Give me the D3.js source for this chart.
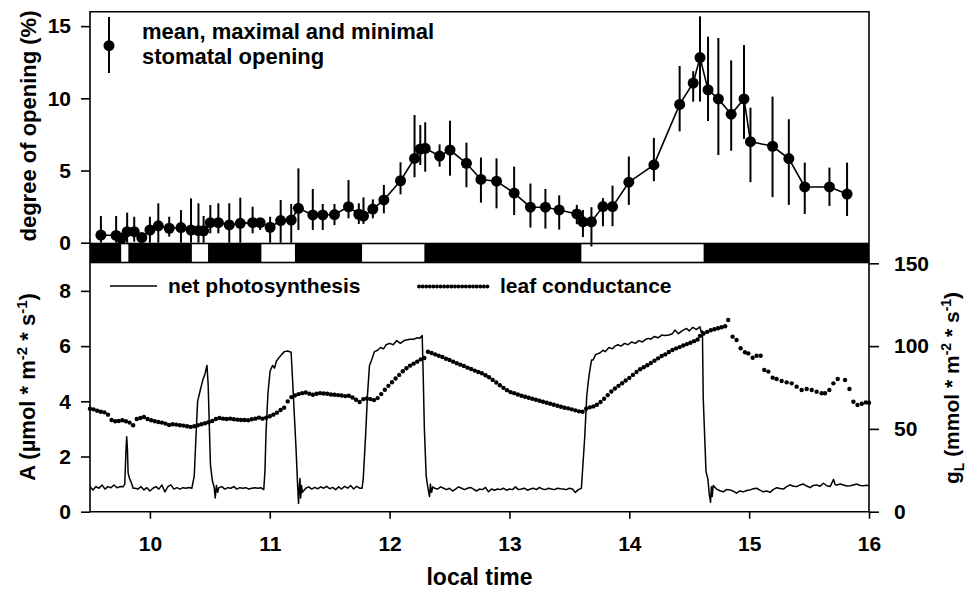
<!DOCTYPE html>
<html>
<head>
<meta charset="utf-8">
<script src="https://cdn.jsdelivr.net/npm/d3@7"></script>
<style>
  body { margin: 0; background: #fff; }
  svg text { font-family: "Liberation Sans", Arial, sans-serif; font-weight: bold; fill: #000; }
</style>
</head>
<body>
<svg id="chart" width="971" height="592"></svg>
<script>
// tick values
const hourTicks = [10, 11, 12, 13, 14, 15, 16];
const openTicks = [0, 5, 10, 15];
const aTicks = [0, 2, 4, 6, 8];
const gTicks = [0, 50, 100, 150];

// light on periods (white in the bar), local time
const lightPeriods = [[9.76, 9.82], [10.35, 10.485], [10.93, 11.21], [11.77, 12.29], [13.60, 14.62]];

// stomatal opening (%): mean, maximal, minimal
const openTime = [9.591, 9.718, 9.762, 9.81, 9.869, 9.932, 10.0, 10.07, 10.161, 10.259,
  10.343, 10.405, 10.448, 10.504, 10.571, 10.662, 10.754, 10.857, 10.92, 11.003,
  11.091, 11.179, 11.239, 11.359, 11.442, 11.54, 11.657, 11.743, 11.782, 11.86,
  11.952, 12.091, 12.208, 12.256, 12.297, 12.417, 12.504, 12.641, 12.762, 12.892,
  13.039, 13.175, 13.3, 13.415, 13.562, 13.613, 13.684, 13.78, 13.86, 13.996,
  14.205, 14.42, 14.533, 14.59, 14.657, 14.743, 14.85, 14.957, 15.011, 15.195,
  15.331, 15.464, 15.67, 15.817];
const openMean = [0.53, 0.5, 0.3, 0.76, 0.76, 0.36, 0.88, 1.17, 1.0, 1.05,
  0.88, 0.83, 0.82, 1.39, 1.39, 1.23, 1.34, 1.39, 1.39, 1.07,
  1.53, 1.57, 2.38, 1.92, 1.92, 1.95, 2.49, 1.97, 1.85, 2.33,
  2.96, 4.29, 5.84, 6.49, 6.54, 6.0, 6.42, 5.5, 4.38, 4.26,
  3.44, 2.46, 2.46, 2.27, 1.99, 1.45, 1.45, 2.5, 2.5, 4.19,
  5.39, 9.58, 11.06, 12.82, 10.59, 9.96, 8.9, 9.96, 7.0, 6.68,
  5.83, 3.86, 3.86, 3.37];
const openMax = [1.85, 1.85, 0.6, 2.08, 1.8, 0.6, 1.8, 2.73, 1.8, 2.26,
  3.07, 2.73, 1.85, 2.61, 2.73, 2.73, 3.12, 2.49, 1.69, 1.8,
  2.96, 2.68, 5.15, 3.72, 2.68, 2.68, 4.34, 2.73, 3.14, 3.0,
  4.0, 5.57, 8.84, 8.15, 8.34, 6.81, 8.45, 6.93, 5.9, 5.84,
  5.27, 4.1, 3.72, 3.28, 2.62, 2.27, 2.46, 3.09, 3.95, 5.97,
  7.26, 12.24, 11.88, 15.68, 14.27, 14.18, 12.63, 13.69, 9.35, 10.12,
  8.55, 5.55, 5.2, 5.55];
const openMin = [0, 0, 0, 0, 0.07, 0.1, 0, 0, 0.42, 0,
  0, 0, 0, 0.65, 0.65, 0, 0, 0.65, 0.88, 0,
  0, 0, 0.88, 0.88, 0.88, 1.22, 1.69, 1.3, 1.3, 1.69,
  2.03, 3.35, 4.53, 5.38, 4.92, 5.27, 4.64, 3.84, 2.78, 2.38,
  1.92, 1.05, 0.98, 0.91, 1.28, 0.39, -0.26, 1.14, 1.14, 2.62,
  4.26, 7.71, 9.77, 9.77, 8.43, 6.07, 6.37, 7.19, 4.19, 3.16,
  2.62, 1.99, 2.55, 1.85];

// net photosynthesis A (umol m-2 s-1): [time, value]
const photosynthesis = [
  [9.50,0.91],[9.525,0.79],[9.55,0.91],[9.575,0.85],[9.60,0.97],[9.625,0.82],[9.65,0.91],[9.675,0.87],
  [9.70,0.97],[9.725,0.87],[9.75,0.91],[9.775,0.90],
  [9.79,1.0],[9.80,2.2],[9.806,2.72],[9.812,2.3],[9.818,1.4],[9.83,1.2],[9.845,1.05],[9.86,0.85],
  [9.875,0.85],[9.90,0.82],[9.925,0.91],[9.95,0.79],[9.975,0.87],[10.0,0.75],[10.025,0.85],[10.05,0.91],
  [10.075,0.82],[10.10,0.97],[10.125,0.72],[10.15,0.91],[10.175,0.97],[10.20,0.82],[10.225,0.87],
  [10.25,0.82],[10.275,0.87],[10.30,0.85],[10.325,0.88],[10.35,0.85],
  [10.37,1.3],[10.385,2.8],[10.398,4.0],[10.42,4.4],[10.44,4.75],[10.46,5.0],[10.476,5.3],[10.486,4.6],
  [10.495,3.2],[10.505,1.7],[10.52,1.15],[10.537,0.87],[10.545,0.5],[10.555,0.95],[10.565,0.7],
  [10.575,0.87],[10.60,0.91],[10.625,0.82],[10.65,0.87],[10.675,0.85],[10.70,0.91],[10.725,0.82],
  [10.75,0.87],[10.775,0.85],[10.80,0.87],[10.825,0.82],[10.85,0.85],[10.875,0.87],[10.90,0.85],
  [10.925,0.87],[10.95,0.8],
  [10.96,1.5],[10.969,2.9],[10.985,4.3],[11.003,5.1],[11.024,5.3],[11.04,5.2],[11.055,5.45],[11.08,5.6],
  [11.10,5.7],[11.122,5.8],[11.15,5.82],[11.178,5.78],[11.19,4.8],[11.205,3.5],[11.218,2.4],[11.232,1.0],
  [11.24,0.3],[11.247,0.9],[11.252,1.2],[11.258,0.5],[11.265,0.95],[11.272,0.7],
  [11.30,0.85],[11.325,0.9],[11.35,0.82],[11.375,0.88],[11.40,0.83],[11.425,0.9],[11.45,0.85],
  [11.475,0.92],[11.50,0.83],[11.525,0.88],[11.55,0.8],[11.575,0.9],[11.60,0.82],[11.625,0.92],
  [11.65,0.85],[11.675,0.95],[11.70,0.82],[11.725,0.92],[11.75,0.85],[11.77,0.85],
  [11.78,1.2],[11.80,2.8],[11.815,4.2],[11.832,5.3],[11.85,5.5],[11.874,5.8],[11.90,5.85],[11.925,5.95],
  [11.95,5.9],[11.971,6.05],[12.0,6.1],[12.03,6.05],[12.06,6.2],[12.09,6.1],[12.12,6.2],[12.14,6.22],
  [12.17,6.25],[12.20,6.25],[12.23,6.3],[12.25,6.28],[12.272,6.38],[12.28,5.0],[12.29,3.0],[12.305,1.3],
  [12.318,0.9],[12.333,0.55],[12.34,1.0],[12.35,0.7],[12.36,0.9],
  [12.375,0.85],[12.40,0.82],[12.425,0.9],[12.45,0.85],[12.475,0.8],[12.50,0.85],[12.525,0.75],
  [12.55,0.82],[12.575,0.9],[12.60,0.85],[12.625,0.8],[12.65,0.85],[12.675,0.88],[12.70,0.82],
  [12.725,0.75],[12.75,0.82],[12.775,0.8],[12.80,0.88],[12.825,0.72],[12.85,0.82],[12.875,0.78],
  [12.90,0.82],[12.925,0.8],[12.95,0.85],[12.975,0.78],[13.0,0.82],[13.025,0.8],[13.05,0.9],
  [13.075,0.8],[13.10,0.82],[13.125,0.85],[13.15,0.78],[13.175,0.82],[13.20,0.85],[13.225,0.8],
  [13.25,0.88],[13.275,0.82],[13.30,0.8],[13.325,0.85],[13.35,0.82],[13.375,0.8],[13.40,0.85],
  [13.425,0.83],[13.45,0.82],[13.475,0.8],[13.50,0.85],[13.525,0.82],[13.55,0.7],[13.575,0.8],[13.60,0.85],
  [13.61,1.5],[13.628,2.7],[13.645,4.2],[13.66,4.8],[13.67,5.1],[13.685,5.5],[13.698,5.5],[13.72,5.7],
  [13.754,5.75],[13.78,5.85],[13.80,5.8],[13.83,5.95],[13.86,5.9],[13.88,6.0],[13.906,6.05],[13.93,6.0],
  [13.96,6.1],[13.99,6.05],[14.02,6.15],[14.05,6.1],[14.08,6.2],[14.11,6.15],[14.14,6.25],[14.157,6.28],
  [14.18,6.25],[14.21,6.35],[14.24,6.3],[14.27,6.4],[14.297,6.38],[14.33,6.4],[14.36,6.45],[14.38,6.58],
  [14.41,6.45],[14.44,6.55],[14.478,6.64],[14.50,6.55],[14.53,6.68],[14.56,6.6],[14.589,6.7],[14.60,6.5],
  [14.61,6.55],[14.617,4.1],[14.64,1.45],[14.655,1.2],[14.668,0.6],[14.678,0.34],[14.685,0.9],
  [14.692,0.55],[14.70,0.95],
  [14.728,0.82],[14.756,0.76],[14.784,0.72],[14.81,0.8],[14.84,0.79],[14.87,0.74],[14.895,0.67],
  [14.92,0.75],[14.951,0.72],[14.98,0.77],[15.007,0.79],[15.035,0.83],[15.063,0.85],[15.09,0.78],
  [15.118,0.72],[15.145,0.75],[15.174,0.70],[15.2,0.8],[15.23,0.87],[15.258,0.84],[15.286,0.82],
  [15.31,0.9],[15.341,0.97],[15.37,0.92],[15.397,0.91],[15.425,0.97],[15.453,1.0],[15.48,0.93],
  [15.509,0.87],[15.535,0.95],[15.564,0.97],[15.59,0.92],[15.62,1.03],[15.648,0.94],[15.676,0.91],
  [15.704,1.17],[15.718,0.98],[15.732,0.97],[15.76,1.0],[15.787,0.97],[15.815,0.93],[15.843,0.94],
  [15.87,0.97],[15.899,1.0],[15.927,0.95],[15.955,0.94],[15.98,0.96],[16.0,0.94]
];

// leaf conductance gL (mmol m-2 s-1): [time, value]
const conductance = [
  [9.50,62.2],[9.53,61.8],[9.56,61.0],[9.59,60.4],[9.62,60.0],[9.65,58.6],[9.68,55.4],[9.71,54.6],
  [9.74,54.8],[9.77,55.2],[9.80,54.6],[9.83,53.8],[9.86,52.2],[9.89,56.0],[9.92,56.6],[9.95,57.2],
  [9.98,56.0],[10.01,55.2],[10.04,54.6],[10.07,54.2],[10.10,53.8],[10.13,53.2],[10.16,52.4],[10.19,52.8],
  [10.22,52.6],[10.25,52.2],[10.28,52.0],[10.31,51.6],[10.34,51.2],[10.37,51.6],[10.40,52.2],[10.43,52.8],
  [10.46,53.4],[10.49,54.0],[10.52,54.8],[10.55,56.0],[10.58,56.6],[10.61,56.2],[10.64,56.0],[10.67,56.2],
  [10.70,55.8],[10.73,55.6],[10.76,55.4],[10.79,55.4],[10.82,55.2],[10.85,55.8],[10.88,56.2],[10.91,56.8],
  [10.94,56.2],[10.97,56.8],[11.00,57.6],[11.03,58.6],[11.06,59.8],[11.09,61.4],[11.12,62.8],[11.15,66.6],
  [11.18,69.2],[11.21,70.2],[11.24,71.0],[11.27,71.6],[11.30,72.0],[11.33,71.2],[11.36,70.6],[11.39,71.2],
  [11.42,71.6],[11.45,71.4],[11.48,71.2],[11.51,70.8],[11.54,70.6],[11.57,70.4],[11.60,70.2],[11.63,69.8],
  [11.66,70.0],[11.69,69.0],[11.72,67.6],[11.75,66.2],[11.78,68.0],[11.81,68.4],[11.84,68.0],[11.87,67.4],
  [11.90,68.6],[11.93,71.0],[11.96,73.6],[11.99,76.0],[12.02,78.2],[12.05,80.4],[12.08,82.6],[12.11,84.8],
  [12.14,86.6],[12.17,88.2],[12.20,89.4],[12.23,90.6],[12.26,92.0],[12.29,92.8],[12.32,96.6],[12.35,95.8],
  [12.38,95.0],[12.41,94.2],[12.44,93.4],[12.47,92.4],[12.50,91.6],[12.53,90.6],[12.56,89.6],[12.59,88.8],
  [12.62,88.0],[12.65,87.0],[12.68,86.2],[12.71,85.2],[12.74,84.4],[12.77,83.6],[12.80,82.4],[12.83,81.2],
  [12.86,79.6],[12.89,78.0],[12.92,76.4],[12.95,74.8],[12.98,73.4],[13.01,72.2],[13.04,71.6],[13.07,70.8],
  [13.10,70.0],[13.13,69.4],[13.16,68.8],[13.19,68.2],[13.22,67.6],[13.25,67.0],[13.28,66.4],[13.31,65.8],
  [13.34,65.2],[13.37,64.6],[13.40,64.0],[13.43,63.4],[13.46,62.8],[13.49,62.4],[13.52,61.8],[13.55,61.2],
  [13.58,60.6],[13.61,60.4],[13.64,62.2],[13.67,63.0],[13.70,63.6],[13.73,64.6],[13.76,66.2],[13.79,68.2],
  [13.82,70.4],[13.85,72.6],[13.88,74.4],[13.91,76.0],[13.94,77.6],[13.97,79.2],[14.00,80.8],[14.03,82.6],
  [14.06,84.4],[14.09,86.0],[14.12,87.2],[14.15,88.4],[14.18,89.8],[14.21,91.2],[14.24,92.6],[14.27,94.0],
  [14.30,95.0],[14.33,96.4],[14.36,97.6],[14.39,98.6],[14.42,99.4],[14.45,100.4],[14.48,101.2],[14.51,102.0],
  [14.54,103.0],[14.57,104.0],[14.59,106.2],[14.62,107.6],[14.65,108.6],[14.68,109.6],[14.71,110.2],
  [14.74,110.8],[14.77,111.4],[14.80,112.0],[14.825,115.8],
  [14.862,105.7],[14.895,103.7],[14.929,98.7],[14.965,96.3],[14.993,95.6],[15.029,93.0],[15.062,94.2],
  [15.096,94.2],[15.126,85.6],[15.16,84.6],[15.196,80.9],[15.229,80.1],[15.271,78.9],[15.313,78.1],
  [15.355,77.5],[15.396,75.5],[15.438,73.5],[15.48,74.1],[15.522,73.5],[15.563,72.5],[15.605,71.5],
  [15.633,71.5],[15.669,73.5],[15.703,77.5],[15.739,80.1],[15.8,79.5],[15.837,74.1],[15.87,66.4],
  [15.904,64.4],[15.94,65.2],[15.974,66.0],[16.0,65.8]
];

const svg = d3.select('#chart');

const x = d3.scaleLinear().domain([9.5, 16]).range([90, 869]);
const yOpen = d3.scaleLinear().domain([0, 16]).range([242.7, 11.7]);
const yA = d3.scaleLinear().domain([0, 9]).range([511.7, 263.3]);
const yG = d3.scaleLinear().domain([0, 150]).range([511.7, 263.3]);

// light / dark bar between the panels
svg.append('rect')
    .attr('x', x(9.5)).attr('y', yOpen(0))
    .attr('width', x(16) - x(9.5)).attr('height', yA(9) - yOpen(0))
    .attr('fill', '#000');
svg.selectAll('rect.light')
    .data(lightPeriods)
  .enter().append('rect')
    .attr('class', 'light')
    .attr('x', d => x(d[0]))
    .attr('y', yOpen(0) + 1.6)
    .attr('width', d => x(d[1]) - x(d[0]))
    .attr('height', yA(9) - yOpen(0) - 3.2)
    .attr('fill', '#fff');

// frame: top border, right border of upper panel, full left axis line
svg.append('path')
    .attr('d', `M${x(9.5)},${yA(0)}V${yOpen(16)}H${x(16)}V${yA(0)}`)
    .attr('fill', 'none').attr('stroke', '#000').attr('stroke-width', 1.6);

function styleAxis(g, size) {
  g.select('.domain').remove();
  g.selectAll('.tick line').attr('stroke', '#000').attr('stroke-width', 1.6);
  g.selectAll('.tick text')
      .attr('fill', '#000')
      .style('font-size', size + 'px')
      .style('font-family', '"Liberation Sans", Arial, sans-serif')
      .style('font-weight', 'bold');
}

svg.append('g')
    .attr('transform', `translate(${x(9.5)},0)`)
    .call(d3.axisLeft(yOpen).tickValues(openTicks).tickSize(9).tickPadding(10).tickFormat(d3.format('d')))
    .call(g => styleAxis(g, 21));

svg.append('g')
    .attr('transform', `translate(${x(9.5)},0)`)
    .call(d3.axisLeft(yA).tickValues(aTicks).tickSize(9).tickPadding(10).tickFormat(d3.format('d')))
    .call(g => styleAxis(g, 21));

svg.append('g')
    .attr('transform', `translate(${x(16)},0)`)
    .call(d3.axisRight(yG).tickValues(gTicks).tickSize(10).tickPadding(15).tickFormat(d3.format('d')))
    .call(g => styleAxis(g, 21));

svg.append('g')
    .attr('transform', `translate(0,${yA(0)})`)
    .call(d3.axisBottom(x).tickValues(hourTicks).tickSize(7).tickPadding(17).tickFormat(d3.format('d')))
    .call(g => styleAxis(g, 21));

// x axis line
svg.append('line')
    .attr('x1', x(9.5)).attr('x2', x(16))
    .attr('y1', yA(0)).attr('y2', yA(0))
    .attr('stroke', '#000').attr('stroke-width', 1.6);

// ----- upper panel: stomatal opening -----
const openData = openTime.map((t, i) => ({t: t, mean: openMean[i], max: openMax[i], min: openMin[i]}));

svg.selectAll('line.err')
    .data(openData)
  .enter().append('line')
    .attr('class', 'err')
    .attr('x1', d => x(d.t)).attr('x2', d => x(d.t))
    .attr('y1', d => yOpen(d.max)).attr('y2', d => yOpen(d.min))
    .attr('stroke', '#000').attr('stroke-width', 2);

svg.append('path')
    .datum(openData)
    .attr('fill', 'none').attr('stroke', '#000').attr('stroke-width', 1.6)
    .attr('d', d3.line().x(d => x(d.t)).y(d => yOpen(d.mean)));

svg.selectAll('circle.mean')
    .data(openData)
  .enter().append('circle')
    .attr('class', 'mean')
    .attr('cx', d => x(d.t)).attr('cy', d => yOpen(d.mean))
    .attr('r', 5.5).attr('fill', '#000');

// ----- lower panel: gas exchange -----
svg.append('path')
    .datum(photosynthesis)
    .attr('fill', 'none').attr('stroke', '#000').attr('stroke-width', 1.5)
    .attr('stroke-linejoin', 'round')
    .attr('d', d3.line().x(d => x(d[0])).y(d => yA(d[1])));

svg.selectAll('circle.gl')
    .data(conductance)
  .enter().append('circle')
    .attr('class', 'gl')
    .attr('cx', d => x(d[0])).attr('cy', d => yG(d[1]))
    .attr('r', 2.2).attr('fill', '#000');

// ----- legends -----
svg.append('line')
    .attr('x1', 109).attr('x2', 109).attr('y1', 17).attr('y2', 73)
    .attr('stroke', '#000').attr('stroke-width', 2);
svg.append('circle').attr('cx', 109).attr('cy', 45.7).attr('r', 5.5).attr('fill', '#000');
svg.append('text').attr('x', 142).attr('y', 39).style('font-size', '22px')
    .text('mean, maximal and minimal');
svg.append('text').attr('x', 142).attr('y', 64).style('font-size', '22px')
    .text('stomatal opening');

svg.append('line')
    .attr('x1', 110).attr('x2', 157).attr('y1', 286).attr('y2', 286)
    .attr('stroke', '#000').attr('stroke-width', 1.5);
svg.append('text').attr('x', 168).attr('y', 293).style('font-size', '21px')
    .text('net photosynthesis');

svg.selectAll('circle.legdot')
    .data(d3.range(20))
  .enter().append('circle')
    .attr('class', 'legdot')
    .attr('cx', i => 419 + i * 3.6).attr('cy', 286.5)
    .attr('r', 2).attr('fill', '#000');
svg.append('text').attr('x', 500).attr('y', 293).style('font-size', '21px')
    .text('leaf conductance');

// ----- axis titles -----
svg.append('text')
    .attr('transform', 'translate(36,126) rotate(-90)')
    .attr('text-anchor', 'middle').style('font-size', '22px')
    .text('degree of opening (%)');

const aTitle = svg.append('text')
    .attr('transform', 'translate(35,387) rotate(-90)')
    .attr('text-anchor', 'middle').style('font-size', '22px');
aTitle.append('tspan').text('A (\u00b5mol * m');
aTitle.append('tspan').attr('dy', -8).style('font-size', '15px').text('-2');
aTitle.append('tspan').attr('dy', 8).text(' * s');
aTitle.append('tspan').attr('dy', -8).style('font-size', '15px').text('-1');
aTitle.append('tspan').attr('dy', 8).text(')');

const gTitle = svg.append('text')
    .attr('transform', 'translate(959,388) rotate(-90)')
    .attr('text-anchor', 'middle').style('font-size', '21px');
gTitle.append('tspan').text('g');
gTitle.append('tspan').attr('dy', 5).style('font-size', '14px').text('L');
gTitle.append('tspan').attr('dy', -5).text(' (mmol * m');
gTitle.append('tspan').attr('dy', -8).style('font-size', '14px').text('-2');
gTitle.append('tspan').attr('dy', 8).text(' * s');
gTitle.append('tspan').attr('dy', -8).style('font-size', '14px').text('-1');
gTitle.append('tspan').attr('dy', 8).text(')');

svg.append('text')
    .attr('x', (x(9.5) + x(16)) / 2).attr('y', 585)
    .attr('text-anchor', 'middle').style('font-size', '23px')
    .text('local time');
</script>
</body>
</html>
